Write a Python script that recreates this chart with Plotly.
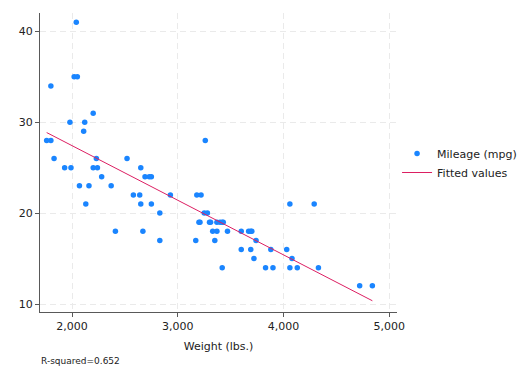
import numpy as np
import plotly.graph_objects as go

weight = [2930, 3350, 2640, 3250, 4080, 3670, 2230, 3280, 3880, 3400, 4330, 3900, 4290,
          2110, 3690, 3180, 3220, 2750, 3430, 2120, 3600, 3600, 3740, 1800, 2650, 4840,
          4720, 3830, 2580, 4060, 3720, 3370, 4130, 2830, 4060, 3310, 3300, 3690, 3370,
          2730, 4030, 3260, 1800, 2200, 2520, 3330, 3700, 3470, 3210, 3200, 3420, 2690,
          2830, 2070, 2650, 2370, 2020, 2280, 2750, 2130, 2240, 1760, 1980, 3420, 1830,
          2050, 2410, 2200, 2670, 2160, 2040, 1930, 1990, 3170]
mpg = [22, 17, 22, 20, 15, 18, 26, 20, 16, 19, 14, 14, 21,
       29, 16, 22, 22, 24, 19, 30, 18, 16, 17, 28, 21, 12,
       12, 14, 22, 14, 15, 18, 14, 20, 21, 19, 19, 18, 19,
       24, 16, 28, 34, 25, 26, 18, 18, 18, 19, 19, 19, 24,
       17, 23, 25, 23, 35, 24, 21, 21, 25, 28, 30, 14, 26,
       35, 18, 31, 18, 23, 41, 25, 25, 17]
x_ticks = [2000, 3000, 4000, 5000]
y_ticks = [10, 20, 30, 40]

w = np.array(weight, dtype=float)
m = np.array(mpg, dtype=float)
slope, intercept = np.polyfit(w, m, 1)
fit_x = np.sort(w)
fit_y = intercept + slope * fit_x
r2 = np.corrcoef(w, m)[0, 1] ** 2

axis_col = "#595959"
grid_col = "#eaeaea"
fig = go.Figure()
fig.add_trace(go.Scatter(x=weight, y=mpg, mode="markers", name="Mileage (mpg)",
                         marker=dict(color="#1a85ff", size=5.5, line=dict(width=0))))
fig.add_trace(go.Scatter(x=fit_x, y=fit_y, mode="lines", name="Fitted values",
                         line=dict(color="#dc1f62", width=1)))

fig.update_layout(
    width=528, height=384,
    margin=dict(l=40, r=131, t=13, b=72, autoexpand=False),
    paper_bgcolor="white", plot_bgcolor="white",
    font=dict(family="DejaVu Sans", size=11, color="#222222"),
    showlegend=True,
    legend=dict(xref="container", yref="container", x=0.752, y=0.5755,
                xanchor="left", yanchor="middle",
                font=dict(size=11), bgcolor="rgba(0,0,0,0)", tracegroupgap=0),
    xaxis=dict(range=[1697, 5073], tickvals=x_ticks, ticktext=[f"{v:,}" for v in x_ticks],
               showline=True, linecolor=axis_col, linewidth=1, ticks="outside", ticklen=4,
               tickcolor=axis_col, showgrid=True, gridcolor=grid_col, griddash="6px,4px",
               gridwidth=1, zeroline=False, mirror=False, automargin=False,
               title=dict(text="Weight (lbs.)", font=dict(size=11), standoff=10)),
    yaxis=dict(range=[9.12, 42.02], tickvals=y_ticks, automargin=False,
               showline=True, linecolor=axis_col, linewidth=1, ticks="outside", ticklen=4,
               tickcolor=axis_col, showgrid=True, gridcolor=grid_col, griddash="6px,4px",
               gridwidth=1, zeroline=False),
    annotations=[dict(text=f"R-squared={r2:.3f}", xref="paper", yref="paper",
                      x=-0.003, y=-0.164, xanchor="left", yanchor="middle", showarrow=False,
                      font=dict(size=9, color="#222222"))],
)
fig.write_html("out.html", config={"displayModeBar": False},
               post_script="document.body.style.margin='0';")
